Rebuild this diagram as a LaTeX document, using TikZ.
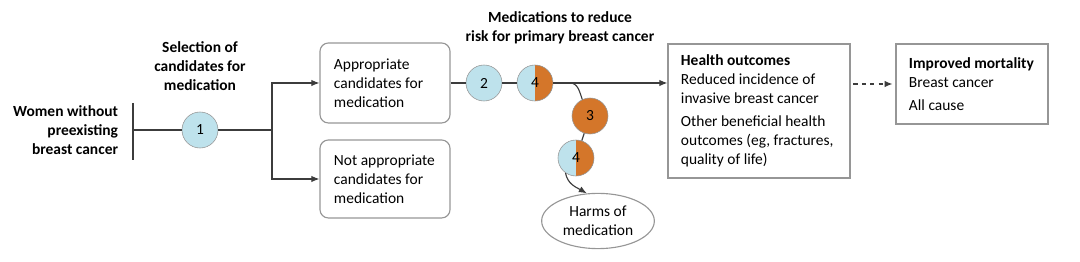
\documentclass[tikz,border=0pt]{standalone}
\usepackage{fontspec}
\setmainfont{Carlito}
\usepackage{tikz}
\usetikzlibrary{arrows.meta, positioning, shapes.geometric}
\definecolor{jblue}{RGB}{190,226,236}
\definecolor{jorange}{RGB}{212,118,42}
\definecolor{jgray}{RGB}{150,150,150}
\definecolor{jline}{RGB}{60,60,60}
\tikzset{
  blk/.style={
    draw=jgray, thick, align=flush left,
    font=\fontsize{11}{13.5}\selectfont,
    inner xsep=0.35cm
  },
  blkr/.style={blk, rounded corners=6pt, minimum width=3.25cm,
    text width=2.55cm},
  num/.style={
    circle, draw=jgray, fill=jblue, minimum size=0.9cm,
    inner sep=0pt, font=\fontsize{11}{13}\selectfont
  },
  half/.style={num, path picture={
      \fill[jorange] (path picture bounding box.north)
        rectangle (path picture bounding box.south east);}},
  harm/.style={ellipse, draw=jgray, thick, minimum width=2.75cm,
    minimum height=1.3cm, align=center,
    font=\fontsize{11}{13.5}\selectfont},
  ttl/.style={align=center, font=\fontsize{11}{13.5}\selectfont\bfseries},
  sig/.style={-{Latex[length=2mm,width=1.6mm]}, thick, jline},
  dsig/.style={sig, dashed},
  line/.style={thick, jline}
}

\begin{document}
\begin{tikzpicture}[x=0.025cm, y=0.025cm]
  \useasboundingbox (0,0) rectangle (1080,262);

  % population
  \node[ttl, align=right, anchor=east] (women) at (123,132)
        {Women without\\preexisting\\breast cancer};
  \coordinate (bartop) at (133,159);
  \coordinate (barbot) at (133,102);
  \coordinate (bar) at (133,132);
  \node[num] (k1) at (200,132) {1};
  \node[ttl, above=4mm of k1] (sel) {Selection of\\candidates for\\medication};
  \coordinate (split) at (272,132);

  \node[blkr, minimum height=2cm]  (appr) at (385,179)
        {Appropriate\\candidates for\\medication};
  \node[blkr, minimum height=1.95cm] (napp) at (385,83)
        {Not appropriate\\candidates for\\medication};

  % medications
  \node[num]  (k2)  at (484,179) {2};
  \node[half] (k4a) at (535,179) {4};
  \node[num, fill=jorange] (k3) at (590,146) {3};
  \node[half] (k4b) at (576,104) {4};
  \node[harm] (hrm) at (598,41) {Harms of\\medication};
  \node[ttl] (meds) at (560,234)
        {Medications to reduce\\risk for primary breast cancer};
  \coordinate (br) at (570,179);

  % outcomes
  \node[blk, minimum width=4.55cm, minimum height=3.35cm,
        text width=3.9cm, inner xsep=0.325cm] (hlth) at (759,151)
        {\textbf{Health outcomes}\\Reduced incidence of\\invasive breast cancer\\[3pt]
         Other beneficial health\\outcomes (eg, fractures,\\quality of life)};
  \node[blk, minimum width=3.8cm, minimum height=2cm,
        text width=3.15cm, inner xsep=0.325cm] (mort) at (972,178)
        {\textbf{Improved mortality}\\Breast cancer\\[3pt]All cause};

  \draw[line] (bartop) -- (barbot);
  \draw[line] (bar) -- (k1) -- (split);
  \draw[sig] (split) |- (appr.west);
  \draw[sig] (split) |- (napp.west);
  \draw[line] (appr) -- (k2) -- (k4a);
  \draw[sig] (k4a) -- (k4a -| hlth.west);
  \draw[line] (br) to[out=0, in=110] (k3.115);
  \draw[line] (k3) -- (k4b);
  \draw[sig] (k4b.235) to[out=-80, in=150] (hrm.112);
  \draw[dsig, shorten <=2pt, shorten >=2pt] (hlth.east |- mort.west) -- (mort.west);

\end{tikzpicture}
\end{document}
